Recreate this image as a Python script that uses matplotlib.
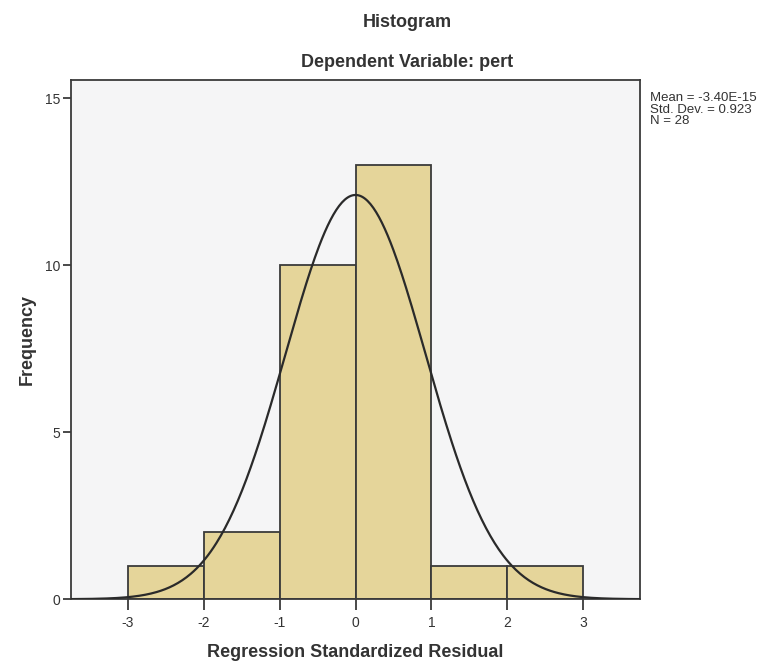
import matplotlib
matplotlib.use("Agg")
import matplotlib.pyplot as plt
import numpy as np

plt.rcParams['font.family'] = ['Liberation Sans', 'DejaVu Sans']

# histogram data
bin_edges = [-3, -2, -1, 0, 1, 2, 3]
counts = [1, 2, 10, 13, 1, 1]
mean_val = -3.40e-15
std_dev = 0.923
n_obs = 28
x_ticks = [-3, -2, -1, 0, 1, 2, 3]
y_ticks = [0, 5, 10, 15]

fig = plt.figure(figsize=(7.72, 6.68), dpi=100)
ax = fig.add_axes([0.092, 0.103, 0.737, 0.777])
ax.set_facecolor("#f5f5f6")

widths = np.diff(bin_edges)
ax.bar(bin_edges[:-1], counts, width=widths, align="edge",
       color="#e5d59a", edgecolor="#3a3a3a", linewidth=1.3, zorder=2)

# normal curve scaled to the counts
xs = np.linspace(-3.75, 3.75, 400)
bw = 1.0
pdf = n_obs * bw / (std_dev * np.sqrt(2 * np.pi)) * np.exp(-0.5 * ((xs - mean_val) / std_dev) ** 2)
ax.plot(xs, pdf, color="#2a2a2a", linewidth=1.6, zorder=3)

ax.set_xlim(-3.75, 3.75)
ax.set_ylim(0, 15.54)
ax.set_xticks(x_ticks)
ax.set_xticklabels([str(t) for t in x_ticks])
ax.set_yticks(y_ticks)
ax.tick_params(axis="x", direction="out", length=8, width=1.3, color="#3a3a3a",
               labelsize=10, labelcolor="#333333", pad=4)
ax.tick_params(axis="y", direction="out", length=6, width=1.3, color="#3a3a3a",
               labelsize=10, labelcolor="#333333", pad=2)
for s in ax.spines.values():
    s.set_color("#3a3a3a")
    s.set_linewidth(1.3)

ax.set_xlabel("Regression Standardized Residual", fontsize=13, fontweight="bold",
              color="#333333", labelpad=10)
ax.set_ylabel("Frequency", fontsize=13, fontweight="bold", color="#333333", labelpad=6)

fig.text(0.527, 0.966, "Histogram", ha="center", va="center", fontsize=13,
         fontweight="bold", color="#333333")
fig.text(0.527, 0.907, "Dependent Variable: pert", ha="center", va="center", fontsize=13,
         fontweight="bold", color="#333333")

stats = f"Mean = {mean_val:.2E}\nStd. Dev. = {std_dev}\nN = {n_obs}"
fig.text(0.842, 0.862, stats, ha="left", va="top", fontsize=9.5, color="#333333",
         linespacing=0.95)

plt.savefig("out.png", dpi=100)
